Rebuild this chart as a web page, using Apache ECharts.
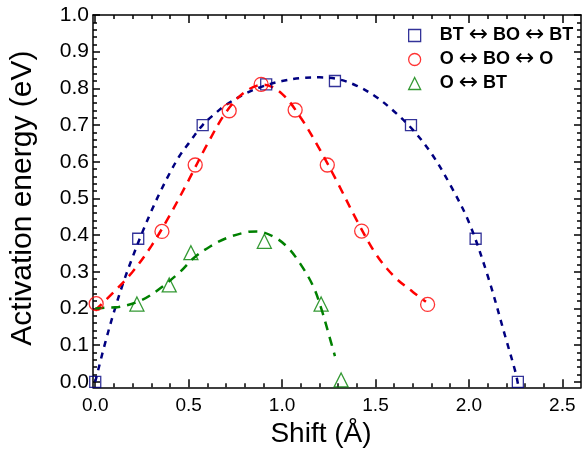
<!DOCTYPE html>
<html>
<head>
<meta charset="utf-8">
<script src="https://cdn.jsdelivr.net/npm/echarts@6/dist/echarts.min.js"></script>
<style>
html,body{margin:0;padding:0;background:#fff;}
#c{width:583px;height:455px;}
</style>
</head>
<body>
<div id="c"></div>
<script>
// ---- data ----
const xMajorTicks = [0, 0.5, 1.0, 1.5, 2.0, 2.5];
const xMinorTicks = [0.1,0.2,0.3,0.4,0.6,0.7,0.8,0.9,1.1,1.2,1.3,1.4,1.6,1.7,1.8,1.9,2.1,2.2,2.3,2.4];
const yMajorTicks = [0,0.1,0.2,0.3,0.4,0.5,0.6,0.7,0.8,0.9,1.0];
const yMinorTicks = [0.02,0.04,0.06,0.08,0.12,0.14,0.16,0.18,0.22,0.24,0.26,0.28,0.32,0.34,0.36,0.38,
  0.42,0.44,0.46,0.48,0.52,0.54,0.56,0.58,0.62,0.64,0.66,0.68,0.72,0.74,0.76,0.78,0.82,0.84,0.86,0.88,0.92,0.94,0.96,0.98];

const names = ['BT \u2194 BO \u2194 BT', 'O \u2194 BO \u2194 O', 'O \u2194 BT'];

// markers
const btboX = [0.0, 0.23, 0.575, 0.915, 1.283, 1.69, 2.036, 2.262];
const btboY = [0.0, 0.39, 0.70, 0.811, 0.82, 0.70, 0.39, 0.0];
const oboX = [0.005, 0.357, 0.535, 0.717, 0.888, 1.07, 1.242, 1.426, 1.779];
const oboY = [0.213, 0.41, 0.591, 0.739, 0.811, 0.741, 0.591, 0.411, 0.211];
const obtX = [0.223, 0.396, 0.512, 0.905, 1.209, 1.316];
const obtY = [0.212, 0.264, 0.352, 0.383, 0.212, 0.005];

// fitted curves
const btboFitX = [0.0, 0.05, 0.1, 0.15, 0.2, 0.25, 0.3, 0.35, 0.4, 0.45, 0.5, 0.575, 0.65, 0.7, 0.8, 0.9, 1.0, 1.1, 1.2, 1.3, 1.4, 1.5, 1.6, 1.7, 1.8, 1.9, 2.0, 2.1, 2.2, 2.25, 2.264];
const btboFitY = [0.0, 0.10, 0.19, 0.27, 0.34, 0.405, 0.465, 0.52, 0.57, 0.615, 0.65, 0.70, 0.735, 0.755, 0.785, 0.806, 0.82, 0.828, 0.83, 0.825, 0.807, 0.778, 0.737, 0.687, 0.622, 0.537, 0.435, 0.29, 0.114, 0.025, -0.01];
const oboFitX = [0.0, 0.1, 0.2, 0.3, 0.4, 0.5, 0.6, 0.7, 0.8, 0.9, 1.0, 1.1, 1.2, 1.3, 1.4, 1.5, 1.6, 1.7, 1.77];
const oboFitY = [0.195, 0.245, 0.30, 0.37, 0.455, 0.55, 0.648, 0.735, 0.79, 0.81, 0.785, 0.72, 0.635, 0.54, 0.44, 0.35, 0.287, 0.245, 0.218];
const obtFitX = [0.0, 0.06, 0.125, 0.25, 0.348, 0.455, 0.526, 0.615, 0.704, 0.811, 0.865, 0.953, 1.025, 1.096, 1.167, 1.212, 1.248, 1.283];
const obtFitY = [0.2, 0.202, 0.204, 0.223, 0.255, 0.30, 0.337, 0.369, 0.392, 0.408, 0.41, 0.396, 0.369, 0.323, 0.26, 0.196, 0.133, 0.07];

const colBT = '#000080', colO = '#ff0000', colG = '#008000';
const zip = (a, b) => a.map((v, i) => [v, b[i]]);

const chart = echarts.init(document.getElementById('c'));
const X_MIN = -0.012, X_MAX = 2.6, Y_MIN = -0.015, Y_MAX = 1.0;
const fontFam = '"Liberation Sans", Arial, sans-serif';

function xAx(pos, major, withLine, withLabel, extra) {
  return Object.assign({
    type: 'value', position: pos, min: X_MIN, max: X_MAX,
    axisLine: { show: withLine, onZero: false, lineStyle: { color: '#000', width: 1.5 } },
    axisTick: { show: true, inside: true, length: major ? 8 : 4, customValues: major ? xMajorTicks : xMinorTicks, lineStyle: { color: '#000', width: 1.5 } },
    axisLabel: { show: withLabel, customValues: xMajorTicks, formatter: v => v.toFixed(1), color: '#000', fontSize: 19, fontFamily: fontFam, margin: 9 },
    splitLine: { show: false }
  }, extra || {});
}
function yAx(pos, major, withLine, withLabel, extra) {
  return Object.assign({
    type: 'value', position: pos, min: Y_MIN, max: Y_MAX,
    axisLine: { show: withLine, onZero: false, lineStyle: { color: '#000', width: 1.5 } },
    axisTick: { show: true, inside: true, length: major ? 7 : 4, customValues: major ? yMajorTicks : yMinorTicks, lineStyle: { color: '#000', width: 1.5 } },
    axisLabel: { show: withLabel, customValues: yMajorTicks, formatter: v => v.toFixed(1), color: '#000', fontSize: 21, fontFamily: fontFam, margin: 4 },
    splitLine: { show: false }
  }, extra || {});
}

const markerStyle = c => ({ color: 'rgba(0,0,0,0)', borderColor: c, borderWidth: 1.3 });

chart.setOption({
  animation: false,
  backgroundColor: '#fff',
  grid: { left: 92.7, right: 2, top: 15, bottom: 67.7, containLabel: false },
  xAxis: [
    xAx('bottom', true, true, true, { name: 'Shift (\u00C5)', nameLocation: 'middle', nameGap: 33,
      nameTextStyle: { fontSize: 28, fontFamily: fontFam, color: '#000', padding: [0, 32, 0, 0] } }),
    xAx('bottom', false, false, false),
    xAx('top', true, true, false),
    xAx('top', false, false, false)
  ],
  yAxis: [
    yAx('left', true, true, true, { name: 'Activation energy (eV)', nameLocation: 'middle', nameGap: 55,
      nameTextStyle: { fontSize: 30, fontFamily: fontFam, color: '#000', padding: [0, 0, 0, 6] } }),
    yAx('left', false, false, false),
    yAx('right', true, true, false),
    yAx('right', false, false, false)
  ],
  legend: {
    orient: 'vertical', left: 403, top: 19, itemGap: 1,
    itemWidth: 12, itemHeight: 12,
    formatter: n => n.split(' \u2194 ').join(' {a|\u2194} '),
    textStyle: { fontSize: 18, fontWeight: 'bold', fontFamily: fontFam, color: '#000', padding: [0, 0, 0, 14], lineHeight: 20,
      rich: { a: { fontFamily: '"DejaVu Sans"', fontWeight: 'normal', fontSize: 23, color: '#000', lineHeight: 20 } } },
    data: [
      { name: names[0], icon: 'rect', itemStyle: { color: 'rgba(0,0,0,0)', borderColor: colBT, borderWidth: 1.3 } },
      { name: names[1], icon: 'circle', itemStyle: { color: 'rgba(0,0,0,0)', borderColor: colO, borderWidth: 1.3 } },
      { name: names[2], icon: 'triangle', itemStyle: { color: 'rgba(0,0,0,0)', borderColor: colG, borderWidth: 1.3 } }
    ]
  },
  series: [
    { type: 'line', name: 'fitBT', data: zip(btboFitX, btboFitY), smooth: 0.35, showSymbol: false, clip: true,
      lineStyle: { color: colBT, width: 2.5, type: [6, 6] }, z: 3 },
    { type: 'line', name: 'fitO', data: zip(oboFitX, oboFitY), smooth: 0.35, showSymbol: false, clip: true,
      lineStyle: { color: colO, width: 2.5, type: [9, 7] }, z: 3 },
    { type: 'line', name: 'fitG', data: zip(obtFitX, obtFitY), smooth: 0.35, showSymbol: false, clip: true,
      lineStyle: { color: colG, width: 2.5, type: [9, 7] }, z: 3 },
    { type: 'scatter', name: names[0], data: zip(btboX, btboY), symbol: 'rect', symbolSize: 11,
      itemStyle: markerStyle(colBT), z: 4 },
    { type: 'scatter', name: names[1], data: zip(oboX, oboY), symbol: 'circle', symbolSize: 14,
      itemStyle: markerStyle(colO), z: 4 },
    { type: 'scatter', name: names[2], data: zip(obtX, obtY), symbol: 'triangle', symbolSize: 14,
      itemStyle: markerStyle(colG), z: 4 }
  ]
});
</script>
</body>
</html>
